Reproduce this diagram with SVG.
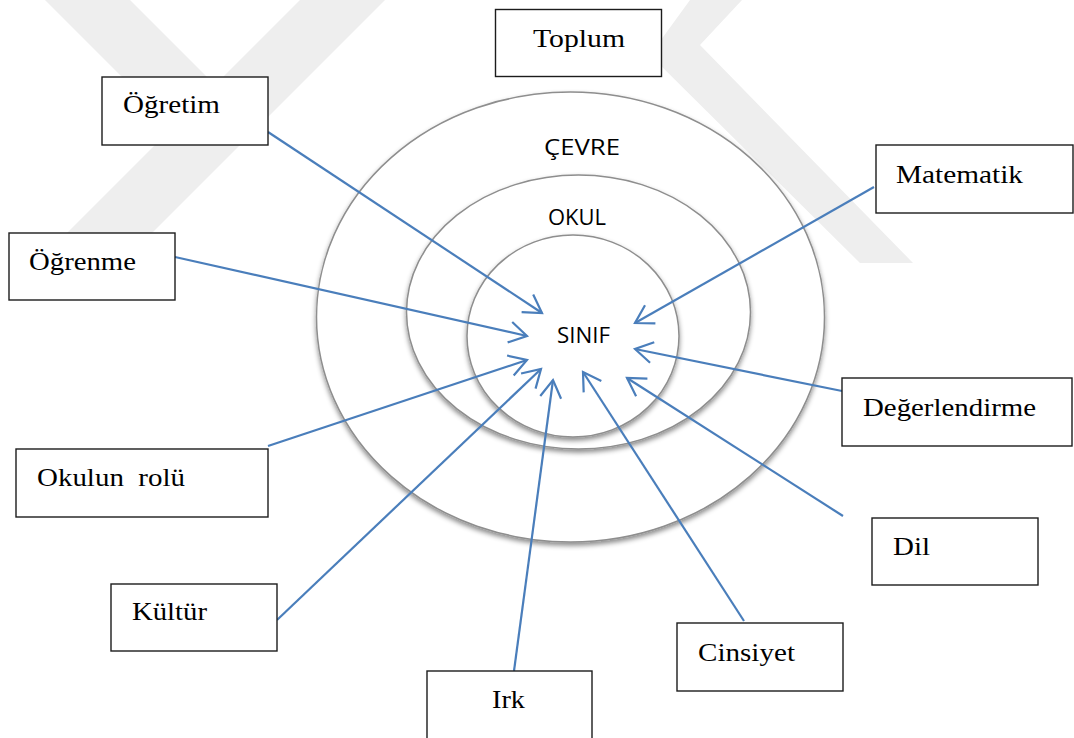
<svg xmlns="http://www.w3.org/2000/svg" width="1074" height="738" viewBox="0 0 1074 738">
<style>
.wm{fill:#eeeeee;stroke:none}
.ring{fill:#ffffff;stroke:#8e8e8e;stroke-width:1.5;filter:url(#sh)}
.box{fill:#ffffff;stroke:#1c1c1c;stroke-width:1.4}
.lbl{font-family:"Liberation Serif","Times New Roman",serif;font-size:26px;fill:#000}
.lay{font-family:"Open Sans","Liberation Sans",sans-serif;font-size:22px;fill:#000}
.con{fill:none;stroke:#4a7ebb;stroke-width:2.2;marker-end:url(#ah)}
</style>
<defs>
<filter id="sh" x="-10%" y="-10%" width="120%" height="125%">
<feDropShadow dx="0" dy="3" stdDeviation="2.5" flood-color="#000" flood-opacity="0.45"/>
</filter>
<marker id="ah" markerUnits="userSpaceOnUse" markerWidth="30" markerHeight="30" viewBox="-22 -15 26 30" refX="0" refY="0" orient="auto">
<path d="M-17.5,-10.5 L0,0 L-17.5,10.5" fill="none" stroke="#4a7ebb" stroke-width="2.2"/>
</marker>
</defs>
<rect width="1074" height="738" fill="#ffffff"/>
<g id="watermark">
<polygon class="wm" points="45,0 130,0 248,118 163,118"/>
<polygon class="wm" points="300,0 385,0 123,262 38,262"/>
<polygon class="wm" points="690,0 742,0 700,45 913,263 860,263 650,55"/>
</g>
<g id="rings">
<g id="cevre"><ellipse class="ring" cx="570.5" cy="317" rx="254" ry="225"/><text class="lay" x="544" y="155" textLength="76" lengthAdjust="spacingAndGlyphs">ÇEVRE</text></g>
<g id="okul"><ellipse class="ring" cx="578.5" cy="312" rx="172" ry="137"/><text class="lay" x="548" y="225" textLength="58" lengthAdjust="spacingAndGlyphs">OKUL</text></g>
<g id="sinif"><ellipse class="ring" cx="573" cy="336" rx="106" ry="101"/><text class="lay" x="557" y="343" textLength="53" lengthAdjust="spacingAndGlyphs">SINIF</text></g>
</g>
<g id="connectors">
<line class="con" x1="268" y1="132" x2="542" y2="313"/>
<line class="con" x1="175" y1="257" x2="527" y2="336"/>
<line class="con" x1="268" y1="446" x2="527" y2="360"/>
<line class="con" x1="277" y1="620" x2="541" y2="369"/>
<line class="con" x1="514" y1="671" x2="553" y2="380"/>
<line class="con" x1="744" y1="621" x2="583" y2="372"/>
<line class="con" x1="843" y1="516" x2="627" y2="378"/>
<line class="con" x1="842" y1="391" x2="635" y2="349"/>
<line class="con" x1="874" y1="187" x2="635" y2="323"/>
</g>
<g id="toplum"><rect class="box" x="495.5" y="9.5" width="166" height="67"/><text class="lbl" x="533" y="47" textLength="92" lengthAdjust="spacingAndGlyphs">Toplum</text></g>
<g id="ogretim"><rect class="box" x="102" y="77" width="166" height="68"/><text class="lbl" x="123" y="113" textLength="97" lengthAdjust="spacingAndGlyphs">Öğretim</text></g>
<g id="ogrenme"><rect class="box" x="9" y="233" width="166" height="67"/><text class="lbl" x="29" y="270" textLength="107" lengthAdjust="spacingAndGlyphs">Öğrenme</text></g>
<g id="matematik"><rect class="box" x="876" y="145" width="197" height="68"/><text class="lbl" x="896" y="183" textLength="127" lengthAdjust="spacingAndGlyphs">Matematik</text></g>
<g id="degerlendirme"><rect class="box" x="842" y="378" width="230" height="68"/><text class="lbl" x="863" y="416" textLength="173" lengthAdjust="spacingAndGlyphs">Değerlendirme</text></g>
<g id="okulun-rolu"><rect class="box" x="16" y="449" width="252" height="68"/><text class="lbl" x="37" y="486" textLength="148" lengthAdjust="spacingAndGlyphs" xml:space="preserve">Okulun  rolü</text></g>
<g id="kultur"><rect class="box" x="111" y="584" width="166" height="67"/><text class="lbl" x="132" y="620" textLength="75" lengthAdjust="spacingAndGlyphs">Kültür</text></g>
<g id="irk"><rect class="box" x="427" y="671" width="165" height="80"/><text class="lbl" x="492" y="708" textLength="33" lengthAdjust="spacingAndGlyphs">Irk</text></g>
<g id="cinsiyet"><rect class="box" x="677" y="623" width="166" height="68"/><text class="lbl" x="698" y="661" textLength="97" lengthAdjust="spacingAndGlyphs">Cinsiyet</text></g>
<g id="dil"><rect class="box" x="872" y="518" width="166" height="67"/><text class="lbl" x="893" y="555" textLength="37" lengthAdjust="spacingAndGlyphs">Dil</text></g>
</svg>
